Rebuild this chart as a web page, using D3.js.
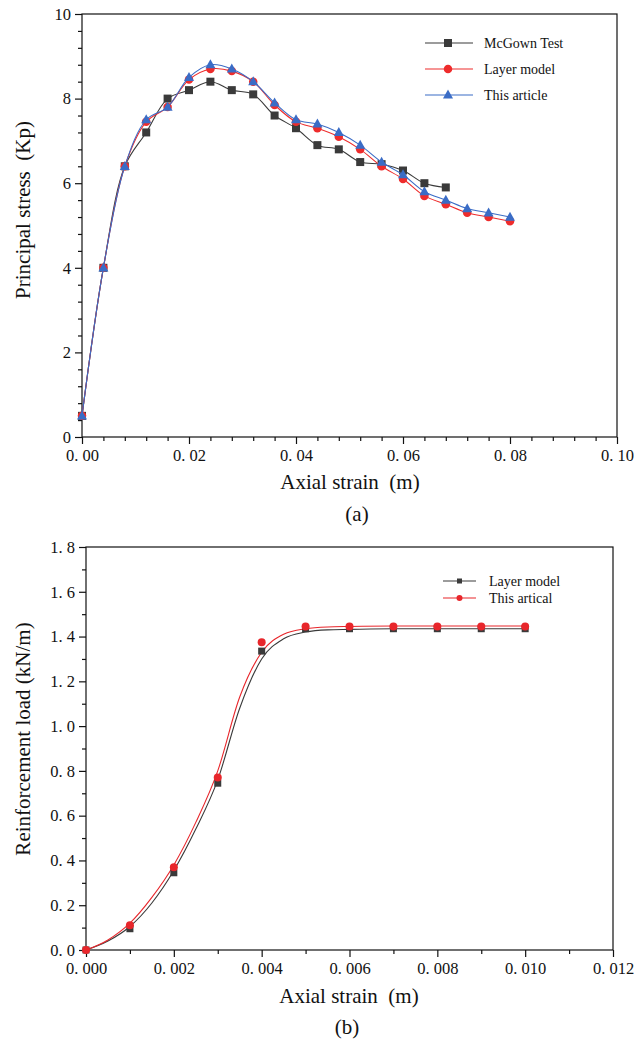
<!DOCTYPE html>
<html>
<head>
<meta charset="utf-8">
<script src="https://cdn.jsdelivr.net/npm/d3@7"></script>
<style>
  html, body { margin: 0; padding: 0; background: #fff; }
  svg { display: block; }
  text { font-family: "Liberation Serif", "Times New Roman", serif; fill: #111; }
</style>
</head>
<body>
<svg id="fig" width="634" height="1041"></svg>
<script>
// ---- Panel (a): principal stress vs axial strain ----
const strainA = [0, 0.004, 0.008, 0.012, 0.016, 0.020, 0.024, 0.028, 0.032, 0.036, 0.040,
                 0.044, 0.048, 0.052, 0.056, 0.060, 0.064, 0.068, 0.072, 0.076, 0.080];
const mcgownTest = [0.5, 4.0, 6.4, 7.2, 8.0, 8.2, 8.4, 8.2, 8.1, 7.6, 7.3,
                    6.9, 6.8, 6.5, 6.45, 6.3, 6.0, 5.9];
const layerModelA = [0.5, 4.0, 6.4, 7.45, 7.8, 8.45, 8.7, 8.65, 8.4, 7.85, 7.45,
                     7.3, 7.1, 6.8, 6.4, 6.1, 5.7, 5.5, 5.3, 5.2, 5.1];
const thisArticle = [0.5, 4.0, 6.4, 7.5, 7.8, 8.5, 8.8, 8.7, 8.4, 7.9, 7.5,
                     7.4, 7.2, 6.9, 6.5, 6.2, 5.8, 5.6, 5.4, 5.3, 5.2];
const seriesNamesA = ["McGown Test", "Layer model", "This article"];
const xTicksA = [0, 0.02, 0.04, 0.06, 0.08, 0.10];
const yTicksA = [0, 2, 4, 6, 8, 10];

// ---- Panel (b): reinforcement load vs axial strain ----
const strainB = [0, 0.001, 0.002, 0.003, 0.004, 0.005, 0.006, 0.007, 0.008, 0.009, 0.010];
const layerModelB = [0, 0.095, 0.345, 0.745, 1.335, 1.435, 1.435, 1.435, 1.435, 1.435, 1.435];
const thisArtical = [0, 0.11, 0.37, 0.77, 1.375, 1.445, 1.445, 1.445, 1.445, 1.445, 1.445];
// fitted curves drawn through the scattered results
const fitStrain = [0, 0.0005, 0.001, 0.0015, 0.002, 0.0025, 0.003, 0.0035, 0.004, 0.0045,
                   0.005, 0.0055, 0.006, 0.007, 0.008, 0.009, 0.010];
const fitLayer = [0, 0.04, 0.105, 0.21, 0.355, 0.54, 0.76, 1.08, 1.3, 1.39,
                  1.42, 1.43, 1.432, 1.435, 1.435, 1.435, 1.435];
const fitArtical = [0, 0.045, 0.12, 0.235, 0.38, 0.57, 0.80, 1.13, 1.33, 1.41,
                    1.435, 1.443, 1.445, 1.447, 1.447, 1.447, 1.447];
const seriesNamesB = ["Layer model", "This artical"];
const xTicksB = [0, 0.002, 0.004, 0.006, 0.008, 0.010, 0.012];
const yTicksB = [0, 0.2, 0.4, 0.6, 0.8, 1.0, 1.2, 1.4, 1.6, 1.8];

const svg = d3.select("#fig");
const C = { black: "#3a3a3a", red: "#ee2c2c", blue: "#3a6cc6" };
const spaced = s => s.replace(".", ". ");

function frame(g, x, y, xMajor, xMinor, yMajor, yMinor, fx, fy) {
  const [x0, x1] = x.range(), [y0, y1] = y.range();
  g.append("rect").attr("x", x0).attr("y", y1).attr("width", x1 - x0).attr("height", y0 - y1)
    .attr("fill", "none").attr("stroke", "#111").attr("stroke-width", 1.2);
  const ax = d3.axisBottom(x).tickValues(xMajor).tickSize(7).tickSizeOuter(0).tickPadding(5).tickFormat(fx);
  const axm = d3.axisBottom(x).tickValues(xMinor).tickSize(4).tickSizeOuter(0).tickFormat("");
  const ay = d3.axisLeft(y).tickValues(yMajor).tickSize(7).tickSizeOuter(0).tickPadding(4).tickFormat(fy);
  const aym = d3.axisLeft(y).tickValues(yMinor).tickSize(4).tickSizeOuter(0).tickFormat("");
  [[ax, "x"], [axm, "x"], [ay, "y"], [aym, "y"]].forEach(([a, k]) => {
    const gg = g.append("g").attr("transform", k === "x" ? `translate(0,${y0})` : `translate(${x0},0)`).call(a);
    gg.select(".domain").remove();
    gg.selectAll("line").attr("stroke", "#111").attr("stroke-width", 1.2);
    gg.selectAll("text").attr("font-family", "Liberation Serif").attr("font-size", 16.5).attr("fill", "#111");
  });
}

function marker(g, shape, cx, cy, size, color) {
  if (shape === "square") {
    g.append("rect").attr("x", cx - size / 2).attr("y", cy - size / 2)
      .attr("width", size).attr("height", size).attr("fill", color);
  } else if (shape === "circle") {
    g.append("circle").attr("cx", cx).attr("cy", cy).attr("r", size / 2).attr("fill", color);
  } else {
    const h = size * 0.9;
    g.append("path").attr("d", `M${cx},${cy - h * 0.6}L${cx + size / 2},${cy + h * 0.4}L${cx - size / 2},${cy + h * 0.4}Z`)
      .attr("fill", color);
  }
}

// ================= Panel (a) =================
{
  const g = svg.append("g");
  const x = d3.scaleLinear().domain([0, 0.1]).range([82, 617]);
  const y = d3.scaleLinear().domain([0, 10]).range([437, 14]);
  const xMinor = d3.range(0, 0.1001, 0.004).filter(v => xTicksA.every(t => Math.abs(t - v) > 1e-9));
  const yMinor = d3.range(0, 10.001, 0.4).filter(v => yTicksA.every(t => Math.abs(t - v) > 1e-9));
  frame(g, x, y, xTicksA, xMinor, yTicksA, yMinor, d => spaced(d3.format(".2f")(d)), d3.format("d"));

  const series = [
    { name: seriesNamesA[0], vals: mcgownTest, color: C.black, shape: "square", size: 8 },
    { name: seriesNamesA[1], vals: layerModelA, color: C.red, shape: "circle", size: 8.5 },
    { name: seriesNamesA[2], vals: thisArticle, color: C.blue, shape: "triangle", size: 10 }
  ];
  const line = d3.line().x(d => x(d[0])).y(d => y(d[1])).curve(d3.curveCatmullRom.alpha(0.5));
  series.forEach(s => {
    const pts = s.vals.map((v, i) => [strainA[i], v]);
    g.append("path").attr("d", line(pts)).attr("fill", "none").attr("stroke", s.color).attr("stroke-width", 1.1);
    const mg = g.append("g");
    pts.forEach(p => marker(mg, s.shape, x(p[0]), y(p[1]), s.size, s.color));
  });

  // legend
  series.forEach((s, i) => {
    const ly = 43 + i * 26;
    g.append("line").attr("x1", 425).attr("x2", 473).attr("y1", ly).attr("y2", ly)
      .attr("stroke", s.color).attr("stroke-width", 1.1);
    marker(g, s.shape, 448, ly, s.size, s.color);
    g.append("text").attr("x", 484).attr("y", ly + 5).attr("font-size", 14).text(s.name);
  });

  g.append("text").attr("x", 350).attr("y", 489).attr("text-anchor", "middle")
    .attr("font-size", 21).style("white-space", "pre").text("Axial strain\u2002(m)");
  g.append("text").attr("transform", "translate(30,210) rotate(-90)").attr("text-anchor", "middle")
    .attr("font-size", 21).style("white-space", "pre").text("Principal stress\u2002(Kp)");
  g.append("text").attr("x", 357).attr("y", 521).attr("text-anchor", "middle")
    .attr("font-size", 21).text("(a)");
}

// ================= Panel (b) =================
{
  const g = svg.append("g");
  const x = d3.scaleLinear().domain([0, 0.012]).range([86, 613]);
  const y = d3.scaleLinear().domain([0, 1.8]).range([950, 547]);
  const xMinor = d3.range(0.001, 0.012, 0.002);
  const yMinor = d3.range(0.1, 1.8, 0.2);
  frame(g, x, y, xTicksB, xMinor, yTicksB, yMinor,
        d => spaced(d3.format(".3f")(d)), d => spaced(d3.format(".1f")(d)));

  const series = [
    { name: seriesNamesB[0], vals: layerModelB, fit: fitLayer, color: C.black, shape: "square", size: 7 },
    { name: seriesNamesB[1], vals: thisArtical, fit: fitArtical, color: "#e8262b", shape: "circle", size: 8 }
  ];
  const line = d3.line().x(d => x(d[0])).y(d => y(d[1])).curve(d3.curveMonotoneX);
  series.forEach(s => {
    const fitPts = s.fit.map((v, i) => [fitStrain[i], v]);
    g.append("path").attr("d", line(fitPts)).attr("fill", "none").attr("stroke", s.color).attr("stroke-width", 1.1);
  });
  series.forEach(s => {
    const mg = g.append("g");
    s.vals.forEach((v, i) => marker(mg, s.shape, x(strainB[i]), y(v), s.size, s.color));
  });

  // legend
  series.forEach((s, i) => {
    const ly = 581 + i * 17;
    g.append("line").attr("x1", 443).attr("x2", 476).attr("y1", ly).attr("y2", ly)
      .attr("stroke", s.color).attr("stroke-width", 1.1);
    marker(g, s.shape, 459.5, ly, s.shape === "square" ? 5 : 6, s.color);
    g.append("text").attr("x", 489).attr("y", ly + 5).attr("font-size", 14).text(s.name);
  });

  g.append("text").attr("x", 349).attr("y", 1003).attr("text-anchor", "middle")
    .attr("font-size", 21).style("white-space", "pre").text("Axial strain\u2002(m)");
  g.append("text").attr("transform", "translate(30,739) rotate(-90)").attr("text-anchor", "middle")
    .attr("font-size", 21).text("Reinforcement load (kN/m)");
  g.append("text").attr("x", 347).attr("y", 1034).attr("text-anchor", "middle")
    .attr("font-size", 21).text("(b)");
}
</script>
</body>
</html>
